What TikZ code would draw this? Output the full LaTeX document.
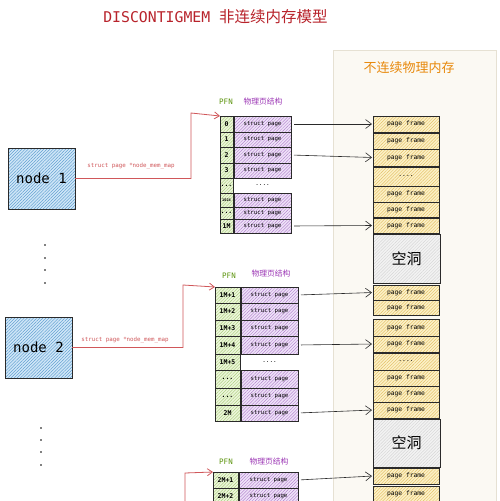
\documentclass[tikz,border=0pt]{standalone}
\usepackage{fontspec}
\setmonofont{DejaVu Sans Mono}
\newfontfamily\cjk{Noto Sans CJK SC}
\usetikzlibrary{arrows.meta,patterns.meta}
\definecolor{titlered}{HTML}{B8232B}
\definecolor{conred}{HTML}{D0575A}
\definecolor{panelfill}{HTML}{FBF9F3}
\definecolor{panelline}{HTML}{E6E1D3}
\definecolor{orangetxt}{HTML}{E8890C}
\definecolor{pfngreen}{HTML}{5C940D}
\definecolor{purpletxt}{HTML}{9C36B5}
\definecolor{nodefill}{HTML}{CFE6F7}
\definecolor{nodehatch}{HTML}{4A90C8}
\definecolor{greenfill}{HTML}{ECF6DA}
\definecolor{greenhatch}{HTML}{9CC46A}
\definecolor{purplefill}{HTML}{EEE2F8}
\definecolor{purplehatch}{HTML}{A66CC4}
\definecolor{yellowfill}{HTML}{FCF0C6}
\definecolor{yellowhatch}{HTML}{DDB550}
\definecolor{grayfill}{HTML}{F2F2F2}
\definecolor{grayhatch}{HTML}{CFCFCF}
\definecolor{edge}{HTML}{2A2A2A}
\tikzset{
  cellbase/.style={draw=edge, line width=0.7pt, inner sep=0pt, outer sep=0pt, anchor=north west},
  nodebox/.style={cellbase, preaction={fill=nodefill}, pattern={Lines[angle=45,distance=2.2pt,line width=0.35pt]}, pattern color=nodehatch, font=\fontsize{14}{14}\selectfont\ttfamily, text=black},
  pfncell/.style={cellbase, preaction={fill=greenfill}, pattern={Lines[angle=45,distance=2.2pt,line width=0.3pt]}, pattern color=greenhatch, font=\fontsize{6.5}{6.5}\selectfont\ttfamily\bfseries, text=black},
  structcell/.style={cellbase, preaction={fill=purplefill}, pattern={Lines[angle=45,distance=2.2pt,line width=0.3pt]}, pattern color=purplehatch, font=\fontsize{5.7}{5.7}\selectfont\ttfamily, text=black, minimum width=57pt},
  structtxt/.style={inner sep=0pt, outer sep=0pt, anchor=north west, font=\fontsize{6}{6}\selectfont\ttfamily, text=black, minimum width=57pt},
  framecell/.style={cellbase, preaction={fill=yellowfill}, pattern={Lines[angle=45,distance=2.2pt,line width=0.3pt]}, pattern color=yellowhatch, font=\fontsize{6.3}{6.3}\selectfont\ttfamily, text=black, minimum width=66pt},
  holecell/.style={cellbase, preaction={fill=grayfill}, pattern={Lines[angle=45,distance=2.2pt,line width=0.3pt]}, pattern color=grayhatch, font=\fontsize{15}{15}\selectfont\cjk, text=black, minimum width=67pt},
  pfnlabel/.style={font=\fontsize{7.5}{7.5}\selectfont\ttfamily, text=pfngreen, inner sep=0pt},
  structlabel/.style={font=\fontsize{7.8}{7.8}\selectfont\cjk, text=purpletxt, inner sep=0pt},
  redlabel/.style={font=\fontsize{5.8}{5.8}\selectfont\ttfamily, text=conred, inner sep=0pt},
  redline/.style={draw=conred, line width=0.8pt, -{Straight Barb[length=5pt,width=7pt]}},
  mapline/.style={draw=edge, line width=0.6pt, shorten <=3pt, shorten >=1pt, -{Straight Barb[length=6pt,width=9pt]}},
  dotmark/.style={circle, fill=black, inner sep=0pt, minimum size=1.6pt},
}
\begin{document}
\begin{tikzpicture}[x=1pt,y=-1pt]
\useasboundingbox (0,0) rectangle (500,501);
\clip (0,0) rectangle (500,501);
\fill[white] (0,0) rectangle (500,501);

% title
\node[inner sep=0pt] (title) at (215.5,17) {\color{titlered}\fontsize{14.8}{15}\selectfont\ttfamily DISCONTIGMEM \fontsize{15.5}{15.5}\selectfont\cjk 非连续内存模型};

% right panel
\node[draw=panelline, fill=panelfill, line width=0.8pt, anchor=north west, minimum width=163pt, minimum height=460pt, inner sep=0pt] (panel) at (333,50) {};
\node[inner sep=0pt, font=\fontsize{13}{13}\selectfont\cjk, text=orangetxt] (ptitle) at (409,68) {不连续物理内存};

% nodes
\node[nodebox, minimum width=67pt, minimum height=61pt] (n1) at (8,148) {node 1};
\node[nodebox, minimum width=67pt, minimum height=61pt] (n2) at (5,317) {node 2};

% dots
\foreach \y [count=\i] in {245,258,270,283} \node[dotmark] (da\i) at (45,\y) {};
\foreach \y [count=\i] in {428,440,452,465} \node[dotmark] (db\i) at (41,\y) {};

% ---------- group 1 ----------
\node[pfnlabel] (pfn1) at (226,102) {PFN};
\node[structlabel] (sl1) at (263,102) {物理页结构};
\node[pfncell, minimum width=13pt, minimum height=16pt] (p1r1) at (220,116) {0};
\node[pfncell, minimum width=13pt, minimum height=15pt] (p1r2) at (220,132) {1};
\node[pfncell, minimum width=13pt, minimum height=16pt] (p1r3) at (220,147) {2};
\node[pfncell, minimum width=13pt, minimum height=15pt] (p1r4) at (220,163) {3};
\node[pfncell, minimum width=13pt, minimum height=15pt] (p1r5) at (220,178) {...};
\node[pfncell, minimum width=13pt, minimum height=14pt, font=\fontsize{3.6}{3.6}\selectfont\ttfamily\bfseries] (p1r6) at (220,193) {1024};
\node[pfncell, minimum width=13pt, minimum height=12pt] (p1r7) at (220,207) {...};
\node[pfncell, minimum width=13pt, minimum height=14pt] (p1r8) at (220,219) {1M};
\node[structcell, minimum height=16pt] (s1r1) at (234,116) {struct page};
\node[structcell, minimum height=15pt] (s1r2) at (234,132) {struct page};
\node[structcell, minimum height=16pt] (s1r3) at (234,147) {struct page};
\node[structcell, minimum height=15pt] (s1r4) at (234,163) {struct page};
\node[structtxt, minimum height=15pt] (s1r5) at (234,178) {....};
\node[structcell, minimum height=14pt] (s1r6) at (234,193) {struct page};
\node[structcell, minimum height=12pt] (s1r7) at (234,207) {struct page};
\node[structcell, minimum height=14pt] (s1r8) at (234,219) {struct page};

% ---------- group 2 ----------
\node[pfnlabel] (pfn2) at (229,276) {PFN};
\node[structlabel] (sl2) at (271,274) {物理页结构};
\node[pfncell, minimum width=25pt, minimum height=16pt] (p2r1) at (215,287) {1M+1};
\node[pfncell, minimum width=25pt, minimum height=17pt] (p2r2) at (215,303) {1M+2};
\node[pfncell, minimum width=25pt, minimum height=16pt] (p2r3) at (215,320) {1M+3};
\node[pfncell, minimum width=25pt, minimum height=18pt] (p2r4) at (215,336) {1M+4};
\node[pfncell, minimum width=25pt, minimum height=16pt] (p2r5) at (215,354) {1M+5};
\node[pfncell, minimum width=25pt, minimum height=18pt] (p2r6) at (215,370) {...};
\node[pfncell, minimum width=25pt, minimum height=17pt] (p2r7) at (215,388) {...};
\node[pfncell, minimum width=25pt, minimum height=16pt] (p2r8) at (215,405) {2M};
\node[structcell, minimum height=16pt] (s2r1) at (241,287) {struct page};
\node[structcell, minimum height=17pt] (s2r2) at (241,303) {struct page};
\node[structcell, minimum height=16pt] (s2r3) at (241,320) {struct page};
\node[structcell, minimum height=18pt] (s2r4) at (241,336) {struct page};
\node[structtxt, minimum height=16pt] (s2r5) at (241,354) {....};
\node[structcell, minimum height=18pt] (s2r6) at (241,370) {struct page};
\node[structcell, minimum height=17pt] (s2r7) at (241,388) {struct page};
\node[structcell, minimum height=16pt] (s2r8) at (241,405) {struct page};

% ---------- group 3 ----------
\node[pfnlabel] (pfn3) at (226,462) {PFN};
\node[structlabel] (sl3) at (269,462) {物理页结构};
\node[pfncell, minimum width=25pt, minimum height=16pt] (p3r1) at (213,472) {2M+1};
\node[pfncell, minimum width=25pt, minimum height=16pt] (p3r2) at (213,488) {2M+2};
\node[structcell, minimum width=59pt, minimum height=16pt] (s3r1) at (239,472) {struct page};
\node[structcell, minimum width=59pt, minimum height=16pt] (s3r2) at (239,488) {struct page};

% ---------- page frames ----------
\node[framecell, minimum height=16pt] (f1a) at (373,116) {page frame};
\node[framecell, minimum height=16pt] (f1b) at (373,133) {page frame};
\node[framecell, minimum height=17pt] (f1c) at (373,149) {page frame};
\node[framecell, minimum height=19pt] (f1d) at (373,167) {....};
\node[framecell, minimum height=16pt] (f1e) at (373,186) {page frame};
\node[framecell, minimum height=15pt] (f1f) at (373,202) {page frame};
\node[framecell, minimum height=15pt] (f1g) at (373,218) {page frame};
\node[holecell, minimum height=49pt] (h1) at (373,234) {空洞};
\node[framecell, minimum height=15pt] (f2a) at (373,285) {page frame};
\node[framecell, minimum height=15pt] (f2b) at (373,300) {page frame};
\node[framecell, minimum height=17pt] (f2c) at (373,319) {page frame};
\node[framecell, minimum height=16pt] (f2d) at (373,336) {page frame};
\node[framecell, minimum height=17pt] (f2e) at (373,353) {....};
\node[framecell, minimum height=16pt] (f2f) at (373,370) {page frame};
\node[framecell, minimum height=16pt] (f2g) at (373,386) {page frame};
\node[framecell, minimum height=16pt] (f2h) at (373,402) {page frame};
\node[holecell, minimum height=48pt] (h2) at (373,419) {空洞};
\node[framecell, minimum height=16pt] (f3a) at (373,468) {page frame};
\node[framecell, minimum height=16pt] (f3b) at (373,486) {page frame};

% ---------- mapping arrows ----------
\draw[mapline] (s1r1.east) -- (f1a.west);
\draw[mapline] (s1r3.east) -- (f1c.west);
\draw[mapline] (s1r8.east) -- (f1g.west);
\draw[mapline] (s2r1.east) -- (f2a.west);
\draw[mapline] (s2r4.east) -- (f2d.west);
\draw[mapline] (s2r8.east) -- (f2h.west);
\draw[mapline] (s3r1.east) -- (f3a.west);

% ---------- red connectors ----------
\draw[redline] (n1.east) -| (191,113) -- (p1r1.north west);
\node[redlabel] (rl1) at (131,166) {struct page *node\_mem\_map};
\draw[redline] (n2.east) -| (183,285) -- (p2r1.north west);
\node[redlabel] (rl2) at (125,340) {struct page *node\_mem\_map};
\coordinate (c3) at (185,505);
\draw[redline] (c3) -- (185,473) -- (p3r1.north west);
\end{tikzpicture}
\end{document}
